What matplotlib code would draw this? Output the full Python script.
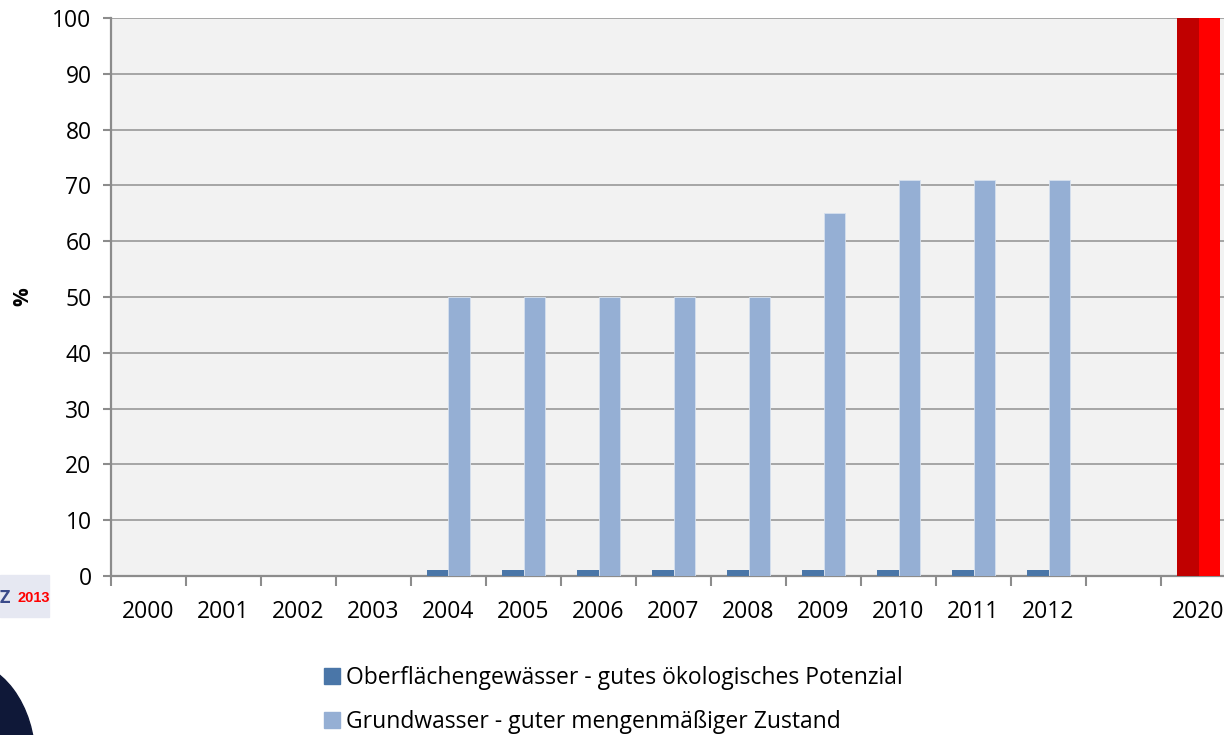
import numpy as np
import matplotlib.pyplot as plt
from matplotlib.patches import Rectangle, Ellipse, Patch

plt.rcParams['font.family'] = ['Open Sans', 'DejaVu Sans']

jahre = ['2000', '2001', '2002', '2003', '2004', '2005', '2006', '2007',
         '2008', '2009', '2010', '2011', '2012', '', '2020']
oberflaeche = [0, 0, 0, 0, 1, 1, 1, 1, 1, 1, 1, 1, 1, 0, 0]
grundwasser = [0, 0, 0, 0, 50, 50, 50, 50, 50, 65, 71, 71, 71, 0, 0]
ziel_2020 = [0] * 14 + [100]
ziel_2020b = [0] * 14 + [100]

W, H = 1224, 735
fs = 16.5
fig = plt.figure(figsize=(W / 100, H / 100), dpi=100)
ax = fig.add_axes([111 / W, 1 - 576 / H, (1236 - 111) / W, (576 - 18) / H])
ax.set_facecolor('#F2F2F2')

x = np.arange(len(jahre))
bw = 0.293
ax.bar(x[:14] - bw / 2, oberflaeche[:14], bw, color='#4A76A8', zorder=3)
ax.bar(x[:14] + bw / 2, grundwasser[:14], bw, color='#95AFD4',
       edgecolor='#D6E0EE', linewidth=0.6, zorder=3)
ax.bar(x[14] - bw / 2, ziel_2020[14], bw, color='#C00000', zorder=3)
ax.bar(x[14] + bw / 2, ziel_2020b[14], bw, color='#FF0000', zorder=3)

ax.set_xlim(-0.5, 14.5)
ax.set_ylim(0, 100)
ax.set_yticks(np.arange(0, 101, 10))
ax.yaxis.grid(True, color='#A0A0A0', linewidth=1.3, zorder=0)
ax.set_axisbelow(True)

ax.set_xticks(x)
ax.set_xticklabels(jahre)
ax.set_xticks(np.arange(-0.5, 14.6, 1), minor=True)
ax.tick_params(axis='x', which='major', length=0, pad=17, labelsize=fs)
ax.tick_params(axis='x', which='minor', length=7, width=1.5, color='#8C8C8C')
ax.tick_params(axis='y', length=6, width=1.5, color='#8C8C8C', labelsize=fs, pad=8)

for s in ['top', 'right']:
    ax.spines[s].set_visible(False)
for s in ['left', 'bottom']:
    ax.spines[s].set_color('#8C8C8C')
    ax.spines[s].set_linewidth(1.6)

fig.text(23 / W, 1 - 297 / H, '%', rotation=90, ha='center', va='center',
         fontsize=15, fontweight='bold')

handles = [Patch(color='#4A76A8'), Patch(color='#95AFD4')]
labels = ['Oberflächengewässer - gutes ökologisches Potenzial',
          'Grundwasser - guter mengenmäßiger Zustand']
fig.legend(handles, labels, loc='upper left', bbox_to_anchor=(324 / W, 1 - 666 / H),
           frameon=False, fontsize=fs, handlelength=0.7, handleheight=0.7,
           handletextpad=0.25, labelspacing=0.88, borderaxespad=0, borderpad=0)

# Rest eines Logos unten links
fig.patches.append(Rectangle((0, 1 - 617 / H), 49 / W, 42 / H,
                             transform=fig.transFigure, color='#E6E8F2', zorder=0))
fig.text(0, 1 - 598 / H, 'Z', color='#3A4A8A', fontsize=13, fontweight='bold',
         ha='left', va='center')
fig.text(17 / W, 1 - 598 / H, '2013', color='#FF0000', fontsize=10.5,
         fontweight='bold', family=['Liberation Sans', 'DejaVu Sans'], va='center')
fig.patches.append(Ellipse((-40 / W, 1 - 760 / H), 150 / W, 200 / H,
                           transform=fig.transFigure, color='#0F1838', zorder=0))

fig.savefig('out.png', dpi=100)
